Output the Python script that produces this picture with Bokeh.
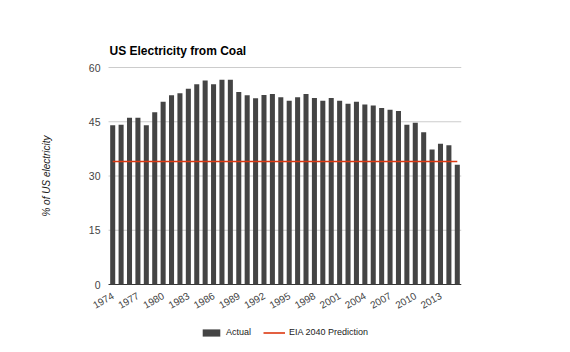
import math
from bokeh.plotting import figure
from bokeh.models import Range1d, FixedTicker, Legend, LegendItem, Label
from bokeh.embed import file_html
from bokeh.resources import INLINE

# ---- data ----
years = list(range(1974, 2016))
coal_share = [44.0, 44.2, 46.1, 46.1, 44.0, 47.6, 50.5, 52.3, 52.9, 54.1,
              55.4, 56.4, 55.4, 56.6, 56.6, 53.2, 52.3, 51.5, 52.4, 52.7,
              51.8, 50.8, 51.8, 52.7, 51.6, 50.8, 51.6, 50.8, 50.0, 50.5,
              49.8, 49.5, 48.8, 48.3, 48.0, 44.2, 44.7, 42.1, 37.3, 38.9,
              38.5, 33.1]
eia_2040 = 34.0
x_tick_years = [1974, 1977, 1980, 1983, 1986, 1989, 1992, 1995, 1998,
                2001, 2004, 2007, 2010, 2013]
y_ticks = [0, 15, 30, 45, 60]
title_text = "US Electricity from Coal"

FONT = "Liberation Sans"

# layout: value area 0..60 spans pixels 284..67, years 1973.5..2015.5 span
# pixels 108..461; the frame is enlarged so title, legend and the first
# rotated year label sit inside it.
PX = 217.0 / 60.0
PXX = 353.0 / 42.0
X_START, X_END = years[0] - 0.5, years[-1] + 0.5
FRAME_TOP, FRAME_BOTTOM, FRAME_LEFT = 14, 337, 85
y_lo = -(FRAME_BOTTOM - 284) / PX
y_hi = 60 + (67 - FRAME_TOP) / PX
x_lo = X_START - (108 - FRAME_LEFT) / PXX

p = figure(width=570, height=352, frame_width=461 - FRAME_LEFT,
           frame_height=FRAME_BOTTOM - FRAME_TOP, title=None,
           output_backend="svg", toolbar_location=None,
           x_range=Range1d(x_lo, X_END), y_range=Range1d(y_lo, y_hi),
           min_border_left=FRAME_LEFT, min_border_right=109,
           min_border_top=FRAME_TOP, min_border_bottom=352 - FRAME_BOTTOM)
p.outline_line_color = None
p.background_fill_color = "white"
p.border_fill_color = "white"

# gridlines over the value area only
grid_colors = ["#333333" if t == 0 else "#cccccc" for t in y_ticks]
p.segment(x0=[X_START] * len(y_ticks), x1=[X_END] * len(y_ticks),
          y0=y_ticks, y1=y_ticks, line_color=grid_colors, line_width=1)

bars = p.vbar(x=years, top=coal_share, width=0.6,
              fill_color="#444444", line_color=None)
pred = p.line(x=[years[0], years[-1]], y=[eia_2040, eia_2040],
              line_color="#dc3912", line_width=1.6)

# title
p.add_layout(Label(x=X_START, y=(284 - 50) / PX, x_offset=1, text=title_text,
                   text_font=FONT, text_font_size="12px", text_font_style="bold",
                   text_color="#000000", text_baseline="alphabetic",
                   text_align="left"))

# y axis (labels pulled back in to end at x = 100)
ya = p.yaxis[0]
ya.ticker = FixedTicker(ticks=y_ticks)
ya.axis_line_color = None
ya.major_tick_line_color = None
ya.minor_tick_line_color = None
ya.major_tick_out = 0
ya.major_label_standoff = -(100 - FRAME_LEFT)
ya.major_label_text_font = FONT
ya.major_label_text_font_size = "10.5px"
ya.major_label_text_color = "#444444"
ya.axis_label = "% of US electricity"
ya.axis_label_text_font = FONT
ya.axis_label_text_font_style = "italic"
ya.axis_label_text_font_size = "10px"
ya.axis_label_text_color = "#222222"
ya.axis_label_standoff = 34

# x axis drawn at y = 0
xa = p.xaxis[0]
xa.ticker = FixedTicker(ticks=x_tick_years)
xa.fixed_location = 0
xa.axis_line_color = None
xa.major_tick_line_color = None
xa.minor_tick_line_color = None
xa.major_label_orientation = math.pi / 6
xa.major_label_standoff = 4
xa.major_label_text_font = FONT
xa.major_label_text_font_size = "10px"
xa.major_label_text_color = "#444444"

p.xgrid.visible = False
p.ygrid.visible = False

legend = Legend(items=[LegendItem(label="Actual", renderers=[bars]),
                       LegendItem(label="EIA 2040 Prediction", renderers=[pred])],
                orientation="horizontal", location=(200 - FRAME_LEFT, 0),
                glyph_width=22, glyph_height=9, label_height=9,
                label_standoff=4, spacing=12, padding=0, margin=0,
                border_line_color=None, background_fill_alpha=0,
                label_text_font=FONT, label_text_font_size="9px",
                label_text_color="#222222")
p.add_layout(legend)

open("out.html", "w").write(file_html(p, INLINE))
